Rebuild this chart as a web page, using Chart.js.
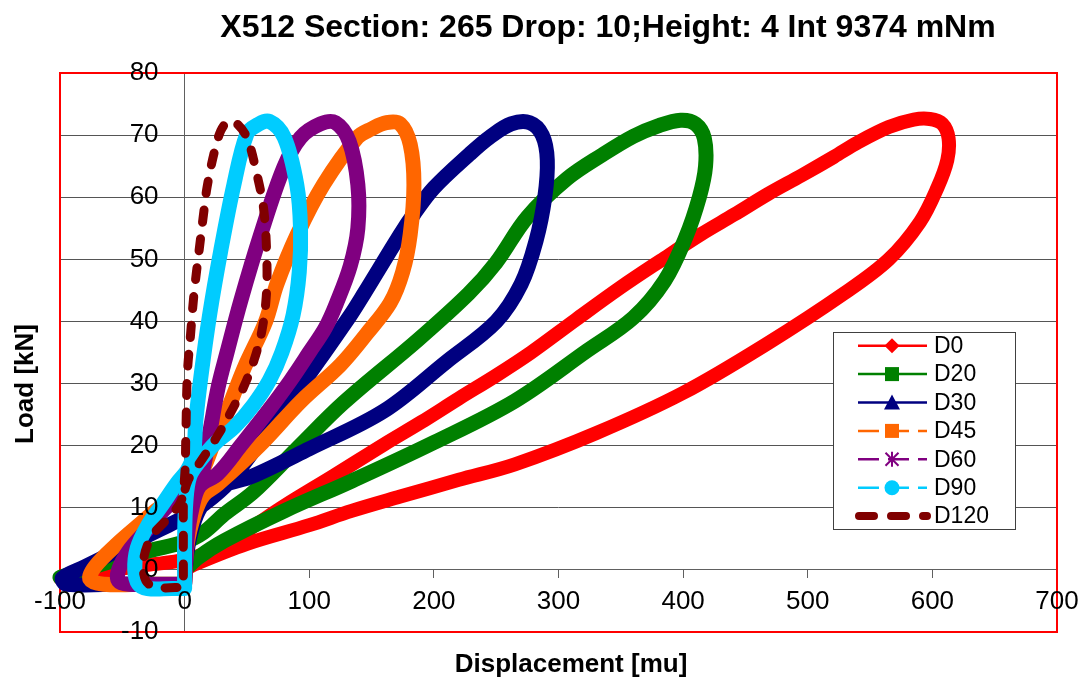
<!DOCTYPE html>
<html>
<head>
<meta charset="utf-8">
<script src="https://cdn.jsdelivr.net/npm/chart.js@4.4.1/dist/chart.umd.min.js"></script>
<style>
html,body{margin:0;padding:0;background:#fff;}
#wrap{width:1081px;height:677px;position:relative;}
</style>
</head>
<body>
<div id="wrap"><canvas id="c" width="1081" height="677"></canvas></div>
<script>
const chartTitle = 'X512 Section: 265 Drop: 10;Height: 4 Int 9374 mNm';
const xAxisTitle = 'Displacement [mu]';
const yAxisTitle = 'Load [kN]';
const seriesNames = ['D0', 'D20', 'D30', 'D45', 'D60', 'D90', 'D120'];
const xTicks = [-100, 0, 100, 200, 300, 400, 500, 600, 700];
const yTicks = [-10, 0, 10, 20, 30, 40, 50, 60, 70, 80];

// D0
const d0X = [0, 8, 50, 100, 134, 173, 220, 265, 330, 400, 468, 529, 565, 590, 604, 612, 613, 608, 598, 585, 565, 540, 521, 495, 468, 441, 414, 382, 350, 314, 278, 250, 220, 190, 160, 120, 80, 45, 20, 0, -30, -65, -100];
const d0Y = [0, 0.9, 4.2, 7.2, 9.5, 11.8, 14.5, 17, 22, 28.5, 36.5, 44.5, 50, 56, 61.5, 66, 69.5, 71.8, 72.6, 72.5, 71.3, 68.8, 66.5, 63.5, 60.5, 57.2, 54, 49.8, 45.5, 40.3, 35, 31.3, 27.6, 23.8, 20.2, 15.2, 10.3, 5.7, 3, 1.6, 0.8, -0.2, -1.3];
// D20
const d20X = [0, 11, 32, 80, 134, 200, 265, 323, 360, 385, 402, 413, 418, 417, 410, 398, 380, 360, 335, 307, 275, 250, 228, 187, 128, 90, 55, 32, 15, 0, -30, -65, -100];
const d20Y = [0, 2, 4.7, 9.5, 14.3, 20.5, 27.2, 35.3, 40.6, 46.5, 53.5, 60, 65, 69.5, 71.8, 72.4, 71.5, 69.8, 66.8, 63, 56.8, 49.5, 44.5, 37, 27, 19.5, 12.5, 9, 6, 4.5, 3, 1, -1.2];
// D30
const d30X = [0, 2, 8, 16, 30, 53.5, 100, 160, 210, 250, 270, 282, 289, 291, 287, 277, 262, 245, 229, 200, 184, 173, 144, 133, 100, 87.5, 60, 35, 15, 0, -20, -50, -80, -98, -95, -50, 0];
const d30Y = [-2.2, 3, 8, 11, 13.5, 15, 19.5, 25.6, 33.5, 40, 46, 53, 60, 66, 70, 72, 71.8, 69.7, 67, 61.5, 57.3, 54, 44.5, 41, 31.5, 28, 20.5, 14, 10.5, 8.5, 6.5, 3.5, 0.5, -1.3, -2.3, -2.3, -2.3];
// D45
const d45X = [0, 2, 8, 15, 26.7, 60, 93.6, 125, 146, 165, 175, 181, 184, 181, 173, 162, 150, 138.5, 111.6, 90.4, 74, 65, 48, 35, 24, 12, 0, -20, -35, -55, -72, -76, -65, -30, 0];
const d45Y = [-2.2, 4, 9, 12, 13.8, 20, 27.2, 33, 38, 43, 48, 54, 62, 68.5, 71.8, 72, 71, 69.6, 62.1, 54, 46, 40, 32.6, 26, 20.8, 15, 12, 10, 7.5, 4, 0.5, -1.5, -2.3, -2.3, -2.3];
// D60
const d60X = [0, 2, 6, 12, 26.7, 45, 67, 85, 100, 113, 122, 133, 139, 139, 132, 121, 109, 93, 79.6, 61, 45, 34, 27, 20, 13, 5, 0, -15, -30, -45, -53, -53, -45, 0];
const d60Y = [-2.2, 5, 10, 13.5, 15.5, 20, 25.6, 30.5, 35, 39, 43, 49, 55, 62, 69, 72, 71.8, 69.6, 64.8, 54, 43.3, 35, 29.5, 22, 15, 13, 12.5, 10, 6.5, 3, 0, -1.8, -2.3, -2.3];
// D90
const d90X = [0, 0, 1, 4, 12, 25, 40, 55, 68, 78, 87, 92, 93, 90, 80, 68, 58, 50, 39.5, 29, 20, 13, 9, 7, 2, -6, -18, -30, -38, -40, -37, -30, -10, 0];
const d90Y = [-3, 5, 11, 15, 17.5, 20.5, 23, 26.5, 30.5, 35, 41, 48, 55, 62, 69.6, 72.2, 71.6, 70.2, 62, 51.4, 41, 31, 24, 18.5, 16, 14, 10.5, 7, 3.5, 0, -2.3, -3, -3, -3];
// D120
const d120X = [-1, -1, -0.5, 3, 8, 27, 40, 47.5, 55.6, 62, 65.5, 66, 63.6, 58, 50, 41, 35, 29, 23.5, 18, 15.5, 11.6, 7.5, 4.8, 2.2, 1, 0, -3, -15, -27, -33, -31, -22, 0];
const d120Y = [-1, 6, 12, 14.5, 16, 21.8, 26.5, 29.5, 33.7, 38.5, 44, 49.7, 57.8, 63.7, 69.6, 72, 72.2, 70.7, 67, 61.6, 57.8, 51.4, 44.4, 38, 31.6, 22, 15, 11, 8, 5.2, 1.5, -1.8, -2.8, -2.8];

const seriesX = [d0X, d20X, d30X, d45X, d60X, d90X, d120X];
const seriesY = [d0Y, d20Y, d30Y, d45Y, d60Y, d90Y, d120Y];
const colors = ['#FF0000', '#008000', '#000080', '#FF6600', '#800080', '#00CCFF', '#800000'];
const markers = ['diamond', 'square', 'triangle', 'square', 'star', 'circle', 'none'];
const legendDashed = [false, false, false, true, true, true, true];

const FONT = '"Liberation Sans", Arial, Helvetica, sans-serif';

const datasets = seriesNames.map((name, i) => ({
  label: name,
  data: seriesX[i].map((x, j) => ({x: x, y: seriesY[i][j]})),
  showLine: true,
  borderColor: colors[i],
  backgroundColor: colors[i],
  borderWidth: i === 6 ? 9 : (i === 0 ? 14 : 15),
  borderDash: i === 6 ? [12, 17] : [],
  borderCapStyle: 'round',
  borderJoinStyle: 'round',
  pointRadius: 0,
  pointHoverRadius: 0,
  tension: 0.35,
  fill: false,
  clip: { left: 8, top: 0, right: 0, bottom: 0 },
  order: 6 - i
}));

function drawMarker(ctx, type, x, y, color) {
  ctx.save();
  ctx.fillStyle = color; ctx.strokeStyle = color;
  const r = 7.5;
  ctx.beginPath();
  if (type === 'diamond') {
    ctx.moveTo(x, y - r); ctx.lineTo(x + r, y); ctx.lineTo(x, y + r); ctx.lineTo(x - r, y); ctx.closePath(); ctx.fill();
  } else if (type === 'square') {
    ctx.fillRect(x - 7, y - 7, 14, 14);
  } else if (type === 'triangle') {
    ctx.moveTo(x, y - 8); ctx.lineTo(x + 8, y + 7); ctx.lineTo(x - 8, y + 7); ctx.closePath(); ctx.fill();
  } else if (type === 'circle') {
    ctx.arc(x, y, 7.5, 0, Math.PI * 2); ctx.fill();
  } else if (type === 'star') {
    ctx.lineWidth = 2;
    ctx.moveTo(x, y - 7.5); ctx.lineTo(x, y + 7.5);
    ctx.moveTo(x - 6.5, y - 6.5); ctx.lineTo(x + 6.5, y + 6.5);
    ctx.moveTo(x + 6.5, y - 6.5); ctx.lineTo(x - 6.5, y + 6.5);
    ctx.stroke();
  }
  ctx.restore();
}

const decor = {
  id: 'decor',
  beforeDraw(chart) {
    const ctx = chart.ctx;
    ctx.save(); ctx.fillStyle = '#fff'; ctx.fillRect(0, 0, chart.width, chart.height); ctx.restore();
  },
  beforeDatasetsDraw(chart) {
    const ctx = chart.ctx, a = chart.chartArea;
    ctx.save();
    ctx.strokeStyle = '#FF0000'; ctx.lineWidth = 2;
    ctx.strokeRect(a.left, a.top, a.right - a.left, a.bottom - a.top);
    ctx.restore();
  },
  afterDraw(chart) {
    const ctx = chart.ctx;
    ctx.save();
    ctx.fillStyle = '#000';
    ctx.textAlign = 'center'; ctx.textBaseline = 'alphabetic';
    ctx.font = 'bold 32px ' + FONT;
    ctx.fillText(chartTitle, 608, 37);
    ctx.font = 'bold 26px ' + FONT;
    ctx.fillText(xAxisTitle, 571, 672);
    ctx.save();
    ctx.translate(33, 384); ctx.rotate(-Math.PI / 2);
    ctx.fillText(yAxisTitle, 0, 0);
    ctx.restore();
    // legend
    const lx = 833, ly = 332, lw = 182, lh = 197;
    ctx.fillStyle = '#fff'; ctx.fillRect(lx, ly, lw, lh);
    ctx.strokeStyle = '#404040'; ctx.lineWidth = 1;
    ctx.strokeRect(lx + 0.5, ly + 0.5, lw, lh);
    ctx.font = '23px ' + FONT;
    ctx.textAlign = 'left'; ctx.textBaseline = 'middle';
    seriesNames.forEach((name, i) => {
      const y = 345.7 + i * 28.4;
      ctx.save();
      ctx.strokeStyle = colors[i];
      if (i === 6) {
        ctx.lineWidth = 8; ctx.lineCap = 'round'; ctx.setLineDash([15, 17]);
        ctx.beginPath(); ctx.moveTo(859, y); ctx.lineTo(927, y); ctx.stroke();
      } else {
        ctx.lineWidth = 2.5; ctx.lineCap = 'butt';
        ctx.setLineDash(legendDashed[i] ? [21, 9] : []);
        ctx.beginPath(); ctx.moveTo(858, y); ctx.lineTo(927, y); ctx.stroke();
      }
      ctx.restore();
      drawMarker(ctx, markers[i], 892, y, colors[i]);
      ctx.fillStyle = '#000';
      ctx.fillText(name, 934, y + 1);
    });
    ctx.restore();
  }
};

const noPad = (s) => { s.paddingLeft = 0; s.paddingRight = 0; s.paddingTop = 0; s.paddingBottom = 0; };

new Chart(document.getElementById('c'), {
  type: 'scatter',
  data: { datasets: datasets },
  options: {
    responsive: false,
    devicePixelRatio: 1,
    animation: false,
    layout: { padding: { left: 60, top: 73, right: 24, bottom: 45 } },
    plugins: { legend: { display: false }, title: { display: false }, tooltip: { enabled: false } },
    scales: {
      x: {
        type: 'linear',
        min: -100, max: 700,
        position: { y: 0 },
        afterBuildTicks: (s) => { s.ticks = xTicks.map(v => ({value: v})); },
        afterFit: noPad,
        ticks: { font: { size: 26, family: FONT }, color: '#000', padding: 8, autoSkip: false, maxRotation: 0, z: 1 },
        grid: { drawOnChartArea: false, tickLength: 8, color: '#606060', lineWidth: 1 },
        border: { color: '#606060', width: 1 }
      },
      y: {
        type: 'linear',
        min: -10, max: 80,
        position: { x: 0 },
        afterBuildTicks: (s) => { s.ticks = yTicks.map(v => ({value: v})); },
        afterFit: noPad,
        ticks: { display: false },
        grid: { color: '#555555', lineWidth: 1, tickLength: 8 },
        border: { color: '#606060', width: 1 }
      },
      yLabels: {
        type: 'linear',
        axis: 'y',
        min: -10, max: 80,
        position: { x: -20.9 },
        afterBuildTicks: (s) => { s.ticks = yTicks.map(v => ({value: v})); },
        afterFit: noPad,
        ticks: { font: { size: 26, family: FONT }, color: '#000', padding: 0, autoSkip: false, z: 1 },
        grid: { display: false },
        border: { display: false }
      }
    }
  },
  plugins: [decor]
});
</script>
</body>
</html>
